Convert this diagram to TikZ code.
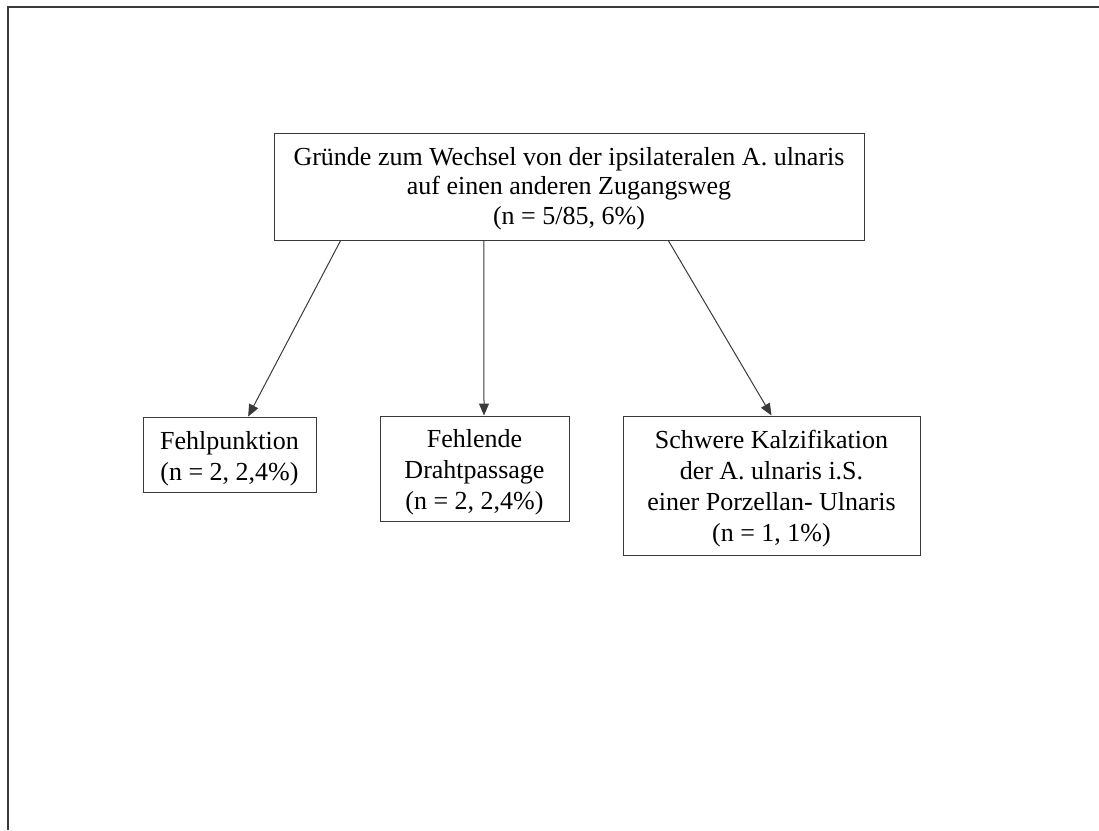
\documentclass[tikz,border=0pt]{standalone}
\usepackage{fontspec}
\setmainfont{Liberation Serif}
\usetikzlibrary{arrows.meta,calc}
\definecolor{ln}{HTML}{3A3A3A}
\tikzset{
  box/.style={draw=ln, line width=1pt, inner sep=0pt},
  lbl/.style={align=center, inner sep=0pt, text=black,
    font=\fontsize{26pt}{31pt}\selectfont},
  conn/.style={draw=ln, line width=1pt, -{Triangle[length=12pt,width=10pt]}},
  frame/.style={draw=ln, line width=1.6pt}
}
\begin{document}
\begin{tikzpicture}[x=1pt,y=-1pt]
\useasboundingbox (0,0) rectangle (1099,830);
\coordinate (fa) at (8,830);
\coordinate (fb) at (8,7);
\coordinate (fc) at (1099,7);
\draw[frame] (fa) -- (fb) -- (fc);
% boxes
\node[box, minimum width=590pt, minimum height=107pt] (top) at (569,186.5) {};
\node[box, minimum width=173pt, minimum height=75pt] (b1) at (229.5,454.5) {};
\node[box, minimum width=189pt, minimum height=105pt] (b2) at (474.5,468.5) {};
\node[box, minimum width=297pt, minimum height=139pt] (b3) at (771.5,485.5) {};
% texts
\node[lbl, font=\fontsize{26pt}{29.5pt}\selectfont, yshift=-2pt] (topt) at (top.center)
  {Gründe zum Wechsel von der ipsilateralen A. ulnaris\\auf einen anderen Zugangsweg\\(n = 5/85, 6\%)};
\node[lbl, yshift=-4pt] (b1t) at (b1.center) {Fehlpunktion\\(n = 2, 2,4\%)};
\node[lbl, yshift=-4pt] (b2t) at (b2.center) {Fehlende\\Drahtpassage\\(n = 2, 2,4\%)};
\node[lbl, yshift=-3pt] (b3t) at (b3.center)
  {Schwere Kalzifikation\\der A. ulnaris i.S.\\einer Porzellan- Ulnaris\\(n = 1, 1\%)};
% connectors
\draw[conn] ($(top.south west)!0.1136!(top.south east)$) -- ($(b1.north west)!0.607!(b1.north east)$);
\draw[conn] ($(top.south west)!0.356!(top.south east)$) -- ($(b2.north west)!0.55!(b2.north east)$);
\draw[conn] ($(top.south west)!0.668!(top.south east)$) -- (b3.north);
\end{tikzpicture}
\end{document}
